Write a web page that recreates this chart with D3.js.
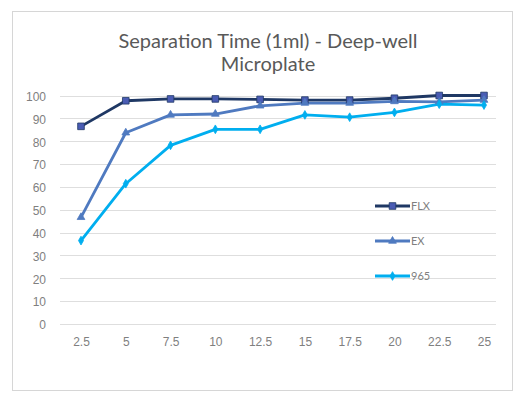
<!DOCTYPE html>
<meta charset="utf-8">
<style>

body {
  margin: 0;
  background: #fff;
  font-family: 'Lato', 'Open Sans', sans-serif;
}

.grid line {
  stroke: #dedede;
  stroke-width: 1px;
}

.axis text {
  fill: #7f7f7f;
  font-size: 12px;
}

path.series {
  fill: none;
  stroke-width: 2.8px;
  stroke-linejoin: round;
}

</style>
<body>
<script src="https://d3js.org/d3.v7.min.js"></script>
<script>

// data
var categories = ["2.5", "5", "7.5", "10", "12.5", "15", "17.5", "20", "22.5", "25"];
var flx = [86.5, 97.7, 98.5, 98.5, 98.3, 98, 98, 98.8, 100, 100];
var ex = [46.7, 83.7, 91.5, 91.9, 95.5, 96.7, 96.7, 97.4, 97.2, 98];
var s965 = [36.5, 61.4, 78.2, 85.2, 85.2, 91.5, 90.5, 92.6, 96.2, 95.8];
var yTicks = [0, 10, 20, 30, 40, 50, 60, 70, 80, 90, 100];

var series = [
  { name: "FLX", values: flx, line: "#1f3864", marker: "#4a5cb4", symbol: d3.symbolSquare, size: 44 },
  { name: "EX", values: ex, line: "#4f7ac0", marker: "#4f7ac0", symbol: d3.symbolTriangle, size: 26 },
  { name: "965", values: s965, line: "#00aeef", marker: "#00aeef", symbol: d3.symbolDiamond, size: 22 }
];

var width = 518,
    height = 394;

var svg = d3.select("body").append("svg")
    .attr("width", width)
    .attr("height", height);

// chart frame
svg.append("rect")
    .attr("x", 12.5).attr("y", 11.5)
    .attr("width", 500).attr("height", 379)
    .attr("fill", "#fff")
    .attr("stroke", "#d6d6d6");

var title = svg.append("text")
    .attr("text-anchor", "middle")
    .attr("fill", "#595959")
    .style("font-size", "20px");
title.append("tspan").attr("x", 268).attr("y", 48).text("Separation Time (1ml) - Deep-well");
title.append("tspan").attr("x", 268).attr("y", 71).text("Microplate");

var x = d3.scalePoint()
    .domain(categories)
    .range([81, 484]);

var y = d3.scaleLinear()
    .domain([0, 100])
    .range([324, 95.5]);

svg.append("g")
    .attr("class", "grid")
    .selectAll("line")
    .data(yTicks)
    .join("line")
    .attr("x1", 60).attr("x2", 496)
    .attr("y1", function(d) { return Math.round(y(d)) + 0.5; })
    .attr("y2", function(d) { return Math.round(y(d)) + 0.5; });

var yAxis = svg.append("g")
    .attr("class", "axis")
    .attr("transform", "translate(52,0)")
    .call(d3.axisLeft(y).tickValues(yTicks).tickSize(0).tickPadding(6));
yAxis.select(".domain").remove();
yAxis.selectAll("text").attr("dy", "0.4em");

var xAxis = svg.append("g")
    .attr("class", "axis")
    .attr("transform", "translate(0,334)")
    .call(d3.axisBottom(x).tickSize(0).tickPadding(3));
xAxis.select(".domain").remove();

var line = d3.line()
    .x(function(d, i) { return x(categories[i]); })
    .y(function(d) { return y(d); });

series.forEach(function(s) {
    svg.append("path")
        .attr("class", "series")
        .attr("d", line(s.values))
        .attr("stroke", s.line);
});

series.forEach(function(s) {
    svg.append("g")
        .selectAll("path")
        .data(s.values)
        .join("path")
        .attr("d", d3.symbol().type(s.symbol).size(s.size))
        .attr("transform", function(d, i) { return "translate(" + x(categories[i]) + "," + y(d) + ")"; })
        .attr("fill", s.marker)
        .attr("stroke", s.line)
        .attr("stroke-width", 0.8);
});

// legend
var legend = svg.append("g")
    .selectAll("g")
    .data(series)
    .join("g")
    .attr("transform", function(d, i) { return "translate(375," + (206 + i * 35) + ")"; });

legend.append("line")
    .attr("x1", 0).attr("x2", 35)
    .attr("stroke", function(d) { return d.line; })
    .attr("stroke-width", 2.8);

legend.append("path")
    .attr("d", function(d) { return d3.symbol().type(d.symbol).size(d.size)(); })
    .attr("transform", "translate(17.5,0)")
    .attr("fill", function(d) { return d.marker; })
    .attr("stroke", function(d) { return d.line; })
    .attr("stroke-width", 0.8);

legend.append("text")
    .attr("x", 36)
    .attr("dy", "0.35em")
    .attr("fill", "#7f7f7f")
    .style("font-size", "11px")
    .text(function(d) { return d.name; });

</script>
</body>
